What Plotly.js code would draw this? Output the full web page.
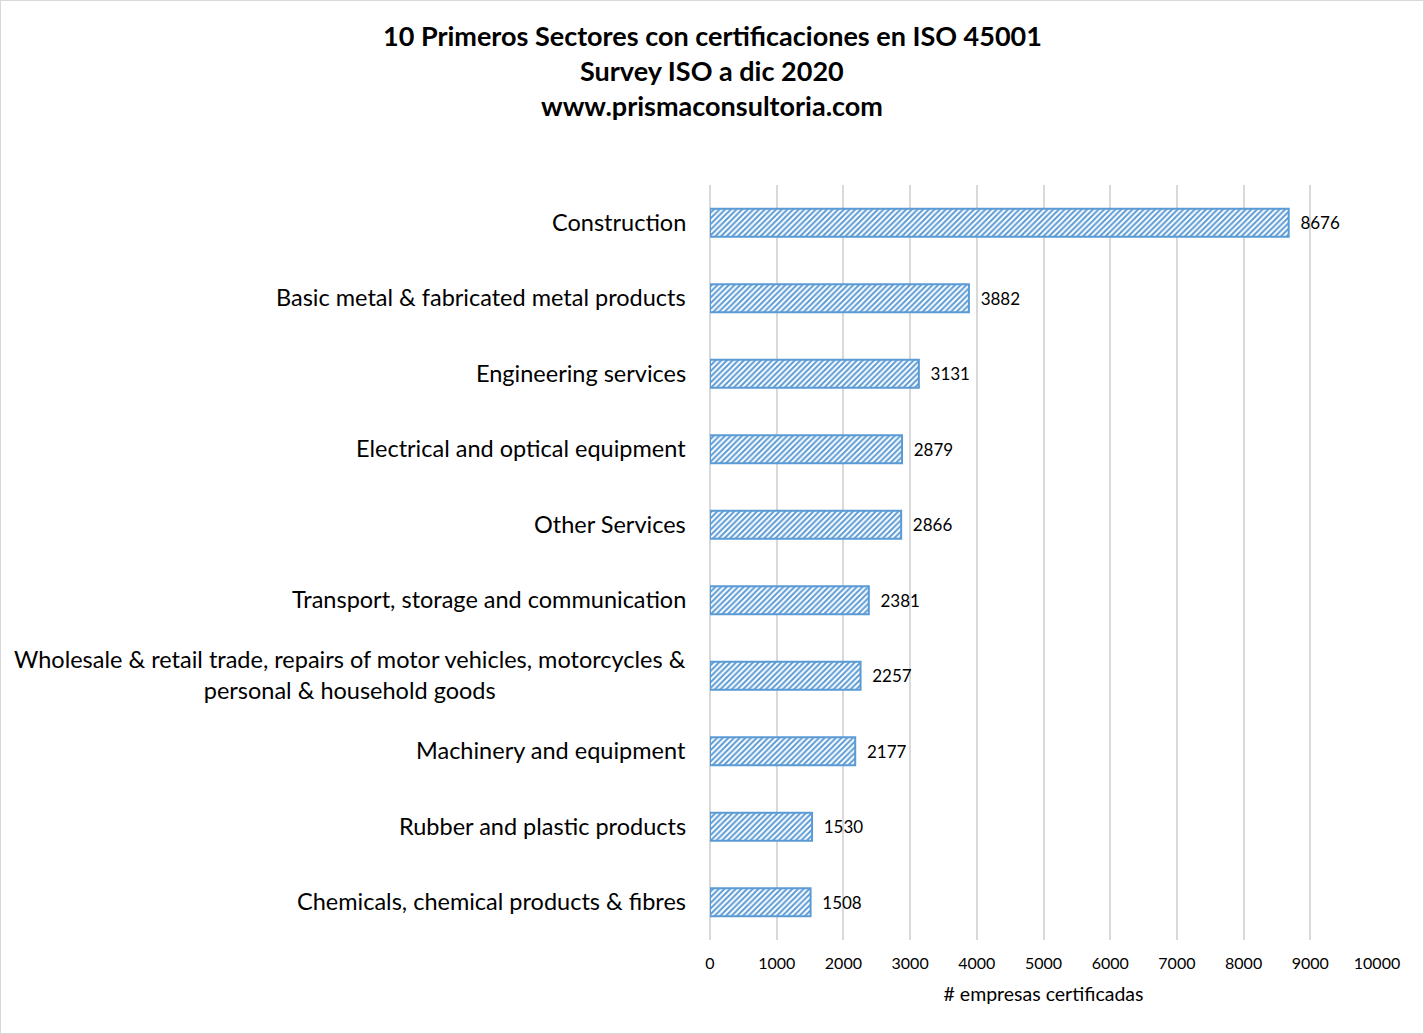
<!DOCTYPE html>
<html>
<head>
<meta charset="utf-8">
<script src="https://cdn.plot.ly/plotly-3.0.1.min.js"></script>
<style>
  html, body { margin: 0; padding: 0; background: #fff; }
  #chart { width: 1422px; height: 1032px; border: 1px solid #d9d9d9; }
</style>
</head>
<body>
<div id="chart"></div>
<script>
// sectors, top to bottom
var sectors = [
    'Construction',
    'Basic metal & fabricated metal products',
    'Engineering services',
    'Electrical and optical equipment',
    'Other Services',
    'Transport, storage and communication',
    'Wholesale & retail trade, repairs of motor vehicles, motorcycles &<br>personal & household goods',
    'Machinery and equipment',
    'Rubber and plastic products',
    'Chemicals, chemical products & fibres'
];
var certificates = [8676, 3882, 3131, 2879, 2866, 2381, 2257, 2177, 1530, 1508];
var xTicks = [0, 1000, 2000, 3000, 4000, 5000, 6000, 7000, 8000, 9000, 10000];

var titleLines = [
    '10 Primeros Sectores con certificaciones en ISO 45001',
    'Survey ISO a dic 2020',
    'www.prismaconsultoria.com'
];
var xAxisTitle = '# empresas certificadas';

var blue = '#5B9BD5';
var grid = '#d9d9d9';
var font = 'Lato, sans-serif';

var trace1 = {
    x: certificates,
    y: sectors,
    type: 'bar',
    orientation: 'h',
    // a little gap between the bar end and its label
    text: certificates.map(function (v) { return '\u00a0\u00a0' + v; }),
    textposition: 'outside',
    textfont: { family: font, size: 17, color: '#000' },
    cliponaxis: false,
    marker: {
        color: '#ffffff',
        line: { color: blue, width: 2 },
        pattern: { shape: '/', fgcolor: blue, bgcolor: '#ffffff', size: 4, solidity: 0.5 }
    },
    hoverinfo: 'x+y'
};

// category labels as annotations so the wrapped one stays centred
var annotations = sectors.map(function (s) {
    return {
        text: s,
        xref: 'paper', x: 0,
        yref: 'y', y: s,
        xanchor: 'right', yanchor: 'middle',
        xshift: -22,
        yshift: 1,
        align: 'center',
        showarrow: false,
        font: { family: font, size: 23.5, color: '#000' }
    };
});

// title, one line each
var titleShift = [150, 115, 80];
titleLines.forEach(function (t, i) {
    annotations.push({
        text: '<b>' + t + '</b>',
        xref: 'paper', x: 0.5,
        yref: 'paper', y: 1,
        xanchor: 'center', yanchor: 'middle',
        xshift: (1422 / 2) - (709 + (1422 - 709 - 46) / 2),
        yshift: titleShift[i],
        showarrow: false,
        font: { family: font, size: 27, color: '#000' }
    });
});

var layout = {
    width: 1422,
    height: 1032,
    margin: { l: 709, r: 46, t: 184, b: 93 },
    paper_bgcolor: '#ffffff',
    plot_bgcolor: '#ffffff',
    showlegend: false,
    bargap: 0.63,
    xaxis: {
        range: [0, 10000],
        tickvals: xTicks,
        ticktext: xTicks.map(String),
        showgrid: true,
        gridcolor: grid,
        gridwidth: 2,
        zeroline: true,
        zerolinecolor: grid,
        zerolinewidth: 2,
        showline: false,
        ticks: '',
        ticklabelstandoff: 12,
        tickfont: { family: font, size: 16, color: '#000' },
        title: {
            text: xAxisTitle,
            standoff: 16,
            font: { family: font, size: 19.5, color: '#000' }
        },
        fixedrange: true
    },
    yaxis: {
        type: 'category',
        autorange: 'reversed',
        showticklabels: false,
        showgrid: false,
        zeroline: false,
        showline: false,
        ticks: '',
        fixedrange: true
    },
    annotations: annotations
};

var additional_param = {
    displayModeBar: false,
    displaylogo: false
};

Plotly.newPlot('chart', [trace1], layout, additional_param);
</script>
</body>
</html>
